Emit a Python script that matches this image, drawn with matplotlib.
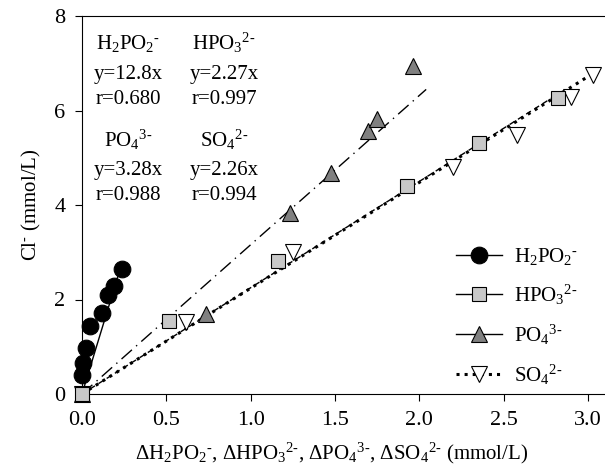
"""
Cl- released vs. consumed anion, four series with fitted lines.
"""
import matplotlib
matplotlib.use('Agg')
import matplotlib.pyplot as plt
import numpy as np

plt.rcParams['font.family'] = 'Liberation Serif'
plt.rcParams['mathtext.fontset'] = 'custom'
plt.rcParams['mathtext.rm'] = 'Liberation Serif'
plt.rcParams['mathtext.it'] = 'Liberation Serif:italic'

# Data
h2po2_x = [0.0, 0.004, 0.024, 0.047, 0.116, 0.156, 0.19, 0.235]
h2po2_y = [0.40, 0.65, 0.97, 1.44, 1.71, 2.09, 2.28, 2.64]
hpo3_x = [0.0, 0.517, 1.162, 1.925, 2.351, 2.824]
hpo3_y = [0.0, 1.55, 2.82, 4.41, 5.32, 6.26]
po4_x = [0.0, 0.734, 1.231, 1.473, 1.694, 1.748, 1.964]
po4_y = [0.0, 1.69, 3.83, 4.67, 5.57, 5.81, 6.95]
so4_x = [0.0, 0.619, 1.25, 2.201, 2.576, 2.897, 3.03]
so4_y = [0.0, 1.53, 3.01, 4.81, 5.49, 6.28, 6.75]

# fitted lines as drawn (slope, x end)
fit_slopes = [11.7, 2.25, 3.16, 2.24]
fit_xend = [0.233, 2.85, 2.04, 3.03]

labels = [r'H$_2$PO$_2$$^{\text{-}}$', r'HPO$_3$$^{2\text{-}}$', r'PO$_4$$^{3\text{-}}$', r'SO$_4$$^{2\text{-}}$']
eq_text = ['y=12.8x', 'y=2.27x', 'y=3.28x', 'y=2.26x']
r_text = ['r=0.680', 'r=0.997', 'r=0.988', 'r=0.994']

fig = plt.figure(figsize=(6.05, 4.67), dpi=100)
ax = fig.add_axes([82/605, 1-394/467, 1.0-82/605, (394-16)/467])

xs = [h2po2_x, hpo3_x, po4_x, so4_x]
ys = [h2po2_y, hpo3_y, po4_y, so4_y]
markers = ['o', 's', '^', 'v']
msizes = [12, 10, 12, 12]
fills = ['black', '#c8c8c8', '#808080', 'white']
lstyles = ['-', (0, (4, 3)), (0, (10, 4, 1, 4)), ':']
lwidths = [1.0, 1.0, 1.0, 2.2]

for i in range(4):
	xl = np.array([0.0, fit_xend[i]])
	ax.plot(xl, fit_slopes[i]*xl, color='black', lw=lwidths[i], ls=lstyles[i], zorder=2)

handles = []
for i in range(3, -1, -1):
	ax.plot(xs[i], ys[i], ls='none', marker=markers[i], ms=msizes[i],
		mfc=fills[i], mec='black', mew=0.8, clip_on=False, zorder=3)

# legend proxies
leg_ls = ['-', '-', '-', ':']
leg_lw = [1.0, 1.0, 1.0, 2.2]
for i in range(4):
	h, = ax.plot([], [], color='black', ls=leg_ls[i], lw=leg_lw[i], marker=markers[i],
		ms=msizes[i], mfc=fills[i], mec='black', mew=0.8)
	handles.append(h)
ax.legend(handles, labels, loc='lower right', bbox_to_anchor=(0.985, -0.03),
	frameon=False, fontsize=15, handlelength=2.2, labelspacing=0.75,
	handletextpad=0.6)

# equation annotations
col_x = [128, 224]
for i in range(4):
	cx = col_x[i % 2]/605
	base = 43 if i < 2 else 140
	fig.text(cx, 1-base/467, labels[i], ha='center', va='center', fontsize=15)
	fig.text(cx, 1-(base+31)/467, eq_text[i], ha='center', va='center', fontsize=15)
	fig.text(cx, 1-(base+56)/467, r_text[i], ha='center', va='center', fontsize=15)

ax.set_xlim(0, 3.1)
ax.set_ylim(0, 8)
ax.set_xticks(np.arange(0, 3.01, 0.5))
ax.set_xticklabels(['0.0', '0.5', '1.0', '1.5', '2.0', '2.5', '3.0'])
ax.set_yticks([0, 2, 4, 6, 8])
ax.tick_params(direction='out', length=5, labelsize=16, pad=7)
ax.spines['right'].set_visible(False)
ax.set_xlabel(r'$\Delta$H$_2$PO$_2$$^{\text{-}}$, $\Delta$HPO$_3$$^{2\text{-}}$, $\Delta$PO$_4$$^{3\text{-}}$, $\Delta$SO$_4$$^{2\text{-}}$ (mmol/L)',
	fontsize=15)
ax.xaxis.set_label_coords(0.478, -0.125)
ax.set_ylabel(r'Cl$^{\text{-}}$ (mmol/L)', fontsize=15, labelpad=8)

fig.savefig('out.png', dpi=100)
